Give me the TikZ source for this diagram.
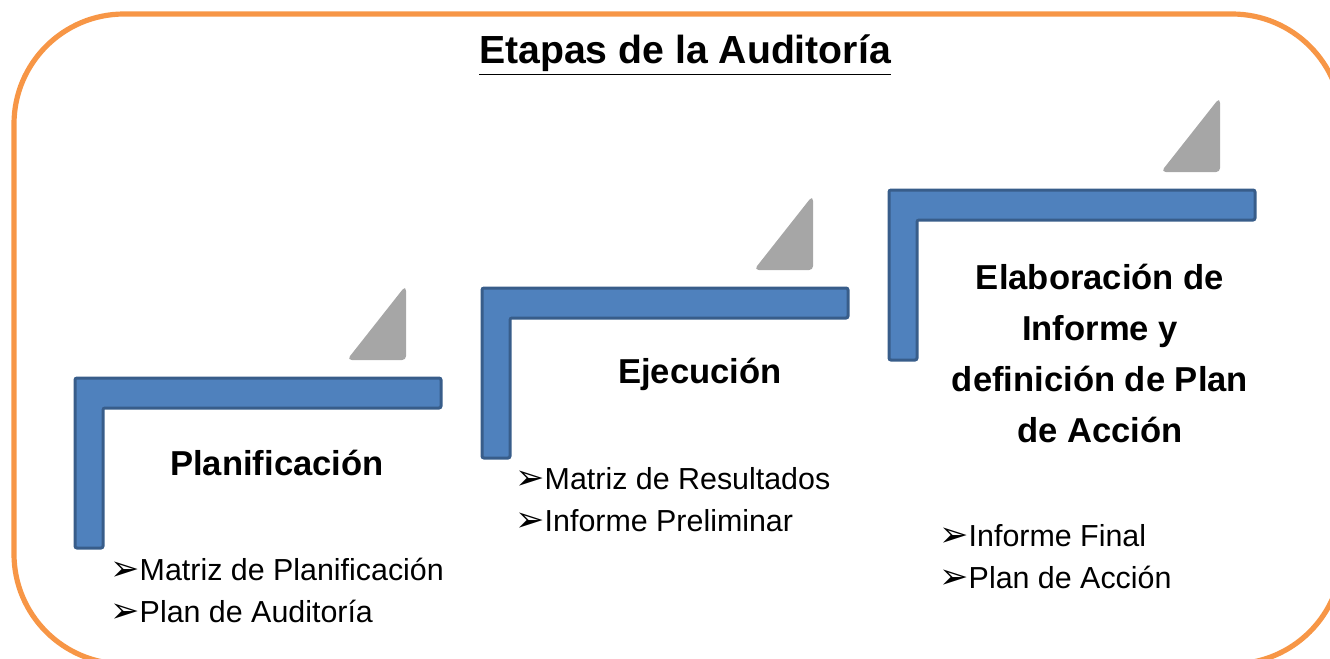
\documentclass[tikz,border=0pt]{standalone}
\usepackage{fontspec}
\setmainfont{Liberation Sans}
\newfontfamily\dingfont{DejaVu Sans}
\definecolor{stepblue}{HTML}{4F81BD}
\definecolor{stepedge}{HTML}{385D8A}
\definecolor{framebrd}{HTML}{F79646}
\definecolor{wedgegray}{HTML}{A6A6A6}
\newcommand{\bul}{{\dingfont\fontsize{17.5}{17.5}\selectfont ➢}}
\tikzset{
  stepbar/.style={fill=stepblue,draw=stepedge,line width=1.5pt,rounded corners=1pt},
  wedge/.style={fill=wedgegray,draw=wedgegray,line width=1pt,rounded corners=1.5pt},
  phase/.style={inner sep=0pt,align=center,font=\bfseries\fontsize{17.3}{25.5}\selectfont},
  items/.style={inner sep=0pt,align=left,anchor=west,font=\fontsize{15.2}{21}\selectfont}
}
\begin{document}
\begin{tikzpicture}[x=0.5pt,y=-0.5pt]
\useasboundingbox (0,0) rectangle (1330,659);
\begin{scope}
\clip (0,0) rectangle (1330,659);
\draw [framebrd,line width=2.6pt,rounded corners=55pt] (14,14) rectangle (1342,664);
\end{scope}
\node [inner sep=0pt,font=\bfseries\fontsize{19.6}{24}\selectfont] (title) at (685,55) {\underline{Etapas de la Auditoría}};
% planificacion
\draw [stepbar] (75,378) -- (441,378) -- (441,408) -- (103,408) -- (103,548) -- (75,548) -- cycle;
\draw [wedge] (405,288) -- (405,359) -- (349,359) -- cycle;
\node [phase] (plan) at (277,463) {Planificación};
\node [items] (planitems) at (110,590) {\bul Matriz de Planificación\\\bul Plan de Auditoría};
% ejecucion
\draw [stepbar] (482,288) -- (848,288) -- (848,318) -- (510,318) -- (510,458) -- (482,458) -- cycle;
\draw [wedge] (812,198) -- (812,269) -- (756,269) -- cycle;
\node [phase] (ejec) at (700,374) {Ejecución};
\node [items] (ejecitems) at (515,500) {\bul Matriz de Resultados\\\bul Informe Preliminar};
% informe
\draw [stepbar] (889,190) -- (1255,190) -- (1255,220) -- (917,220) -- (917,360) -- (889,360) -- cycle;
\draw [wedge] (1219,100) -- (1219,171) -- (1163,171) -- cycle;
\node [phase] (inf) at (1100,353) {Elaboración de\\Informe y\\definición de Plan\\de Acción};
\node [items] (infitems) at (939,557) {\bul Informe Final\\\bul Plan de Acción};
\end{tikzpicture}
\end{document}
